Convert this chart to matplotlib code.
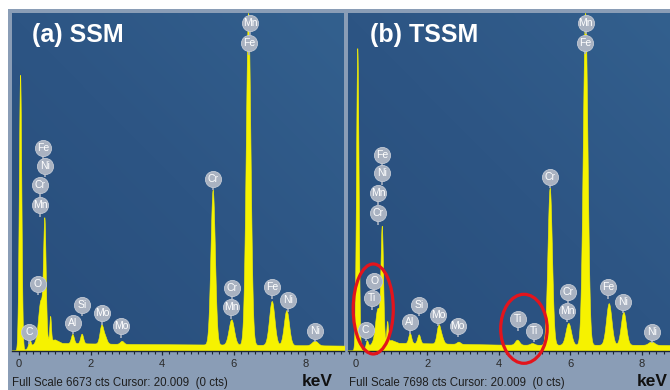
import numpy as np
import matplotlib
matplotlib.use("Agg")
import matplotlib.pyplot as plt
from matplotlib.patches import Ellipse
from matplotlib.ticker import MultipleLocator
from matplotlib.colors import LinearSegmentedColormap
import matplotlib.transforms as mtransforms

plt.rcParams['font.family'] = ['Liberation Sans', 'DejaVu Sans']

W, H = 670, 390

# ---- spectrum data -------------------------------------------------------
# SSM: peak energies (keV), net heights (counts) and widths (keV)
ssm_full_scale = 6673
ssm_peak_kev   = [0.03, 0.29, 0.60, 0.71, 0.87, 1.49, 1.75, 2.30, 2.40, 2.87,
                  5.41, 5.93, 6.40, 7.06, 7.47, 8.26]
ssm_peak_cts   = [5450, 150, 820, 2250, 480, 180, 190, 360, 130, 60,
                  3060, 500, 6560, 870, 690, 90]
ssm_peak_sig   = [0.035, 0.03, 0.065, 0.035, 0.022, 0.04, 0.04, 0.05, 0.05, 0.05,
                  0.062, 0.075, 0.065, 0.075, 0.072, 0.08]
ssm_bg_kev = [-0.3, 0.12, 0.25, 0.45, 1.0, 1.2, 2.0, 3.0, 4.0, 5.0, 6.0, 7.0, 8.0, 9.4]
ssm_bg_cts = [0, 0, 60, 150, 220, 150, 140, 130, 125, 120, 115, 110, 105, 95]

# TSSM
tssm_full_scale = 7698
tssm_peak_kev  = [0.045, 0.31, 0.61, 0.73, 0.88, 1.51, 1.76, 2.31, 2.40, 2.87,
                  4.51, 4.93, 5.42, 5.94, 6.41, 7.07, 7.48, 8.26]
tssm_peak_cts  = [6900, 150, 780, 2500, 450, 230, 200, 410, 140, 50,
                  115, 40, 3580, 500, 7570, 950, 750, 80]
tssm_peak_sig  = [0.035, 0.03, 0.065, 0.035, 0.022, 0.04, 0.04, 0.05, 0.05, 0.05,
                  0.06, 0.06, 0.062, 0.075, 0.065, 0.075, 0.072, 0.08]
tssm_bg_kev = [-0.3, 0.14, 0.27, 0.45, 1.0, 1.2, 2.0, 3.0, 4.0, 5.0, 6.0, 7.0, 8.0, 9.4]
tssm_bg_cts = [0, 0, 60, 160, 240, 175, 165, 150, 135, 130, 130, 130, 130, 120]

# element markers: (label, energy keV, counts)
ssm_labels = [
    ("Mn", 6.45, 6475), ("Fe", 6.42, 6079),
    ("Fe", 0.67, 4003), ("Ni", 0.73, 3648), ("Cr", 0.59, 3272), ("Mn", 0.59, 2867),
    ("O", 0.53, 1315), ("C", 0.28, 356), ("Al", 1.51, 544), ("Si", 1.76, 900),
    ("Mo", 2.32, 741), ("Mo", 2.86, 484), ("Cr", 5.41, 3391),
    ("Cr", 5.95, 1236), ("Mn", 5.92, 860), ("Fe", 7.07, 1255),
    ("Ni", 7.51, 989), ("Ni", 8.27, 386),
]
tssm_labels = [
    ("Mn", 6.42, 7470), ("Fe", 6.41, 7014),
    ("Fe", 0.73, 4459), ("Ni", 0.74, 4042), ("Mn", 0.63, 3586), ("Cr", 0.61, 3130),
    ("O", 0.52, 1592), ("Ti", 0.46, 1191), ("C", 0.28, 468),
    ("Al", 1.52, 643), ("Si", 1.78, 1038), ("Mo", 2.31, 810), ("Mo", 2.85, 559),
    ("Ti", 4.54, 712), ("Ti", 4.99, 445), ("Cr", 5.43, 3964),
    ("Cr", 5.94, 1341), ("Mn", 5.91, 908), ("Fe", 7.06, 1442),
    ("Ni", 7.47, 1113), ("Ni", 8.27, 429),
]

FRAME = '#8a9db6'
YELLOW = '#f6f200'
BADGE = '#a9b2c1'
RED = '#e3141c'
blue_cmap = LinearSegmentedColormap.from_list('bg', ['#284e7c', '#2d5584', '#33608e'])


def px_axes(fig, x0, y0, x1, y1, **kw):
    return fig.add_axes([x0 / W, 1 - y1 / H, (x1 - x0) / W, (y1 - y0) / H], **kw)


def spectrum(e, kev, cts, sig, bg_kev, bg_cts):
    y = np.interp(e, bg_kev, bg_cts)
    for k, c, s in zip(kev, cts, sig):
        y = y + c * np.exp(-0.5 * ((e - k) / s) ** 2)
    return y


fig = plt.figure(figsize=(W / 100, H / 100), dpi=100)
fig.patch.set_facecolor('white')

# instrument frame
bg = px_axes(fig, 8, 9, W, H)
bg.set_facecolor(FRAME)
bg.set_xticks([]); bg.set_yticks([])
for s in bg.spines.values():
    s.set_visible(False)

energy = np.arange(-0.3, 9.4, 0.002)
shade = np.add.outer(np.linspace(0, 0.6, 50), np.linspace(0, 0.6, 80))

panels = [
    dict(x0=12, x1=344, xlim=(-0.196, 9.078), fs=ssm_full_scale,
         peaks=(ssm_peak_kev, ssm_peak_cts, ssm_peak_sig), bg=(ssm_bg_kev, ssm_bg_cts),
         labels=ssm_labels, title='(a) SSM', tx=32, footx=12, kevx=302),
    dict(x0=348, x1=680, xlim=(-0.215, 9.06), fs=tssm_full_scale,
         peaks=(tssm_peak_kev, tssm_peak_cts, tssm_peak_sig), bg=(tssm_bg_kev, tssm_bg_cts),
         labels=tssm_labels, title='(b) TSSM', tx=370, footx=349, kevx=637),
]

axes = []
for p in panels:
    ax = px_axes(fig, p['x0'], 13, p['x1'], 350.5)
    ax.set_xlim(*p['xlim'])
    ax.set_ylim(0, p['fs'])
    ax.imshow(shade[::-1], cmap=blue_cmap, vmin=0, vmax=1.2, aspect='auto',
              extent=(*p['xlim'], 0, p['fs']), interpolation='bicubic', zorder=0)
    spec = spectrum(energy, *p['peaks'], *p['bg'])
    ax.fill_between(energy, 0, spec, color=YELLOW, lw=0.4, ec=YELLOW, zorder=2)

    for side in ('top', 'right', 'left'):
        ax.spines[side].set_visible(False)
    ax.spines['bottom'].set_color('#1c2636')
    ax.spines['bottom'].set_linewidth(1.0)
    ax.yaxis.set_visible(False)
    ax.xaxis.set_major_locator(MultipleLocator(2))
    ax.xaxis.set_minor_locator(MultipleLocator(0.2))
    ax.tick_params(axis='x', which='major', direction='out', length=2.8, width=0.9,
                   color='#1c2636', labelsize=8, labelcolor='#2a2a2a', pad=3.5)
    ax.tick_params(axis='x', which='minor', direction='out', length=2.2, width=0.8,
                   color='#1c2636')

    stem_tr = mtransforms.offset_copy(ax.transData, fig=fig, x=0, y=-9.5, units='dots')
    for txt, e, c in p['labels']:
        ax.plot([e], [c], marker='|', ms=3.5, mew=1.2, color=BADGE,
                transform=stem_tr, zorder=5, clip_on=False)
        ax.scatter([e], [c], s=135, c=BADGE, edgecolors='#c3cad5', linewidths=0.6,
                   zorder=6, clip_on=False)
        ax.text(e, c, txt, ha='center', va='center', color='white', fontsize=7.5,
                zorder=7, clip_on=False)

    fig.text(p['tx'] / W, 1 - 35 / H, p['title'], ha='left', va='center',
             fontsize=18, weight='bold', color='white')
    fig.text(p['footx'] / W, 1 - 383 / H,
             'Full Scale %d cts Cursor: 20.009  (0 cts)' % p['fs'],
             ha='left', va='center', fontsize=8.3, color='#1e1e1e')
    fig.text(p['kevx'] / W, 1 - 381 / H, 'keV', ha='left', va='center',
             fontsize=12.5, weight='bold', color='#111111')
    axes.append(ax)

# highlighted Ti signals in the TSSM spectrum
axb = axes[1]
for (e, c, w, h) in [(0.49, 947, 1.12, 2053), (4.70, 495, 1.30, 1574)]:
    axb.add_patch(Ellipse((e, c), w, h, fill=False, ec=RED, lw=2.3,
                          zorder=8, clip_on=False))

fig.savefig('out.png', dpi=100)
